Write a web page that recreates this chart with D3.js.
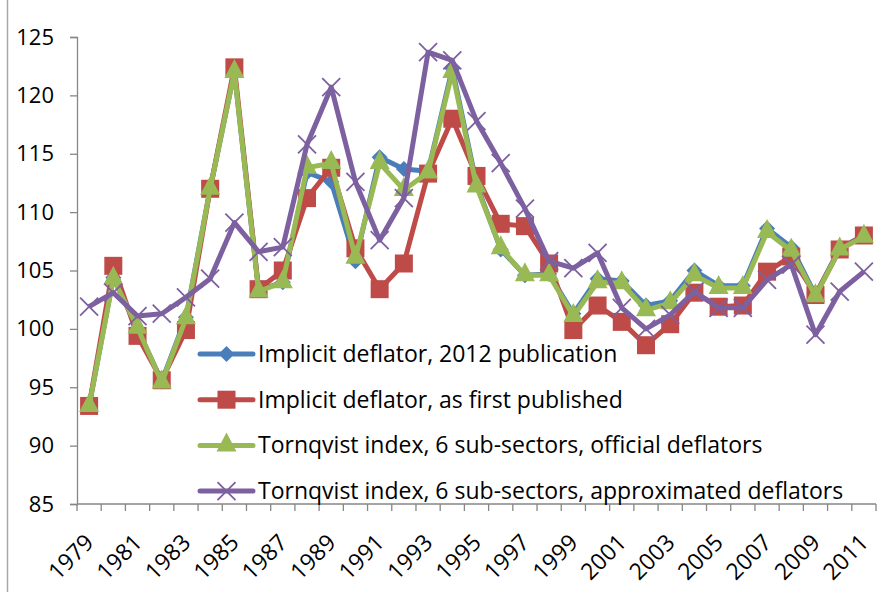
<!DOCTYPE html>
<html>
<head>
<meta charset="utf-8">
<script src="https://cdn.jsdelivr.net/npm/d3@7"></script>
<style>
  body { margin: 0; background: #fff; }
  text { font-family: "Open Sans", Lato, sans-serif; fill: #000; }
</style>
</head>
<body>
<svg id="chart" width="890" height="592"></svg>
<script>
const years = d3.range(1979, 2012).map(String);
const yTicks = [85, 90, 95, 100, 105, 110, 115, 120, 125];

const implicit2012 = [93.4, 104.4, 100.0, 95.5, 101.0, 112.0, 122.0, 103.3, 104.0, 113.4, 112.6, 105.8,
    114.7, 113.7, 113.5, 122.3, 112.4, 106.8, 104.6, 104.7, 101.3, 104.3, 104.1, 102.0, 102.4,
    105.0, 103.7, 103.7, 108.6, 107.0, 102.9, 106.9, 108.0];
const implicitFirst = [93.4, 105.4, 99.4, 95.6, 99.9, 112.0, 122.4, 103.4, 105.0, 111.2, 113.8, 106.9,
    103.4, 105.6, 113.3, 118.0, 113.1, 109.0, 108.8, 105.6, 99.9, 102.0, 100.6, 98.6, 100.4,
    103.1, 101.9, 102.0, 104.9, 106.2, 102.9, 106.8, 108.0];
const tornqvistOfficial = [93.4, 104.3, 100.1, 95.4, 100.9, 112.0, 122.0, 103.2, 104.0, 113.8, 114.2, 106.1,
    114.2, 111.9, 113.4, 122.0, 112.2, 106.9, 104.6, 104.6, 101.1, 104.0, 103.9, 101.6, 102.2,
    104.6, 103.5, 103.5, 108.3, 106.7, 102.8, 106.8, 107.9];
const tornqvistApprox = [101.9, 103.1, 101.1, 101.3, 102.7, 104.3, 109.1, 106.6, 107.0, 115.8, 120.7, 112.6,
    107.6, 111.2, 123.7, 123.0, 117.8, 114.2, 110.3, 105.8, 105.2, 106.5, 101.8, 100.0, 101.2,
    103.2, 101.8, 101.8, 104.2, 105.5, 99.5, 103.2, 104.9];

const series = [
    { name: 'Implicit deflator, 2012 publication', values: implicit2012, color: '#4A7EBB', marker: 'diamond' },
    { name: 'Implicit deflator, as first published', values: implicitFirst, color: '#BE4B48', marker: 'square' },
    { name: 'Tornqvist index, 6 sub-sectors, official deflators', values: tornqvistOfficial, color: '#98B954', marker: 'triangle' },
    { name: 'Tornqvist index, 6 sub-sectors, approximated deflators', values: tornqvistApprox, color: '#7D60A0', marker: 'cross' }
];

const svg = d3.select('#chart');
const margin = { left: 77, right: 14, top: 37, bottom: 88 };
const width = 890 - margin.left - margin.right;
const height = 592 - margin.top - margin.bottom;

// outer frame edge
svg.append('line')
    .attr('x1', 7.5).attr('x2', 7.5).attr('y1', 0).attr('y2', 592)
    .attr('stroke', '#a6a6a6').attr('stroke-width', 1.5);

const g = svg.append('g').attr('transform', `translate(${margin.left},${margin.top})`);

const x = d3.scaleBand().domain(years).range([0, width]);
const y = d3.scaleLinear().domain([85, 125]).range([height, 0]);

// y axis
const yAxis = g.append('g')
    .call(d3.axisLeft(y).tickValues(yTicks).tickSize(7).tickPadding(16));
yAxis.selectAll('text').attr('font-size', '22px').style('font-family', '"Open Sans", sans-serif');
yAxis.selectAll('line, path').attr('stroke', '#868686').attr('stroke-width', 1.3);

// x axis: ticks between categories
const xAxis = g.append('g').attr('transform', `translate(0,${height})`);
xAxis.append('line').attr('x1', 0).attr('x2', width).attr('stroke', '#868686').attr('stroke-width', 1.3);
xAxis.selectAll('.tick')
    .data(d3.range(years.length + 1))
    .enter().append('line')
    .attr('x1', i => i * x.step()).attr('x2', i => i * x.step())
    .attr('y1', 0).attr('y2', 7)
    .attr('stroke', '#868686').attr('stroke-width', 1.3);
xAxis.selectAll('.lbl')
    .data(years.filter((d, i) => i % 2 === 0))
    .enter().append('text')
    .attr('text-anchor', 'end')
    .attr('font-size', '23px')
    .attr('transform', d => `translate(${x(d) + x.bandwidth() / 2 + 6},${40}) rotate(-45)`)
    .text(d => d);

const line = d3.line()
    .x((d, i) => x(years[i]) + x.bandwidth() / 2)
    .y(d => y(d));

function drawMarker(sel, type, color) {
    if (type === 'diamond') {
        sel.append('path').attr('d', 'M0,-8L8,0L0,8L-8,0Z').attr('fill', color);
    } else if (type === 'square') {
        sel.append('rect').attr('x', -9).attr('y', -9).attr('width', 18).attr('height', 18).attr('fill', color);
    } else if (type === 'triangle') {
        sel.append('path').attr('d', 'M0,-13L10,6L-10,6Z').attr('fill', color);
    } else {
        sel.append('path').attr('d', 'M-9,-9L9,9M-9,9L9,-9')
            .attr('stroke', color).attr('stroke-width', 1.8).attr('fill', 'none');
    }
}

series.forEach(s => {
    const sg = g.append('g');
    sg.append('path')
        .datum(s.values)
        .attr('d', line)
        .attr('fill', 'none')
        .attr('stroke', s.color)
        .attr('stroke-width', 5)
        .attr('stroke-linejoin', 'round');
    sg.selectAll('.m')
        .data(s.values)
        .enter().append('g')
        .attr('transform', (d, i) => `translate(${x(years[i]) + x.bandwidth() / 2},${y(d)})`)
        .each(function() { drawMarker(d3.select(this), s.marker, s.color); });
});

// legend
const legend = svg.append('g').attr('transform', 'translate(200,354)');
series.forEach((s, i) => {
    const row = legend.append('g').attr('transform', `translate(0,${i * 45.7})`);
    row.append('line').attr('x1', 0).attr('x2', 53)
        .attr('stroke', s.color).attr('stroke-width', 5).attr('stroke-linecap', 'round');
    drawMarker(row.append('g').attr('transform', 'translate(26.5,0)'), s.marker, s.color);
    row.append('text').attr('x', 58).attr('y', 8).attr('font-size', '23px').text(s.name);
});
</script>
</body>
</html>
